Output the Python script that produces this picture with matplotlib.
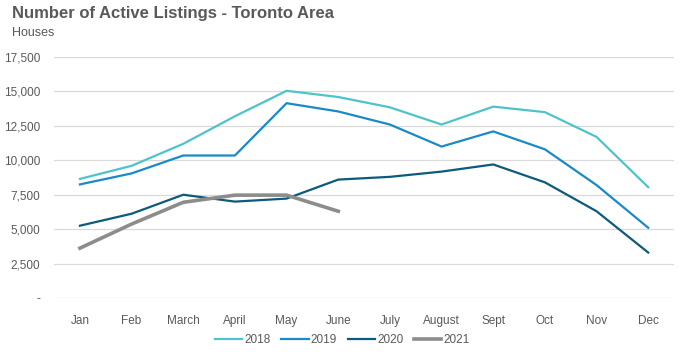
import matplotlib.pyplot as plt
from matplotlib.ticker import FuncFormatter

months = ["Jan", "Feb", "March", "April", "May", "June",
          "July", "August", "Sept", "Oct", "Nov", "Dec"]
listings_2018 = [8650, 9600, 11200, 13200, 15050, 14600,
                 13850, 12600, 13900, 13500, 11700, 8050]
listings_2019 = [8250, 9050, 10350, 10350, 14150, 13550,
                 12600, 11000, 12100, 10800, 8200, 5100]
listings_2020 = [5250, 6120, 7500, 7000, 7220, 8600,
                 8800, 9180, 9700, 8400, 6300, 3300]
listings_2021 = [3620, 5370, 6950, 7470, 7470, 6300]

TEXT = "#595959"
plt.rcParams["font.family"] = ["Liberation Sans", "DejaVu Sans"]


def fmt(v, pos):
    if v == 0:
        return "-"
    return f"{int(v):,}"


def main():
    fig = plt.figure(figsize=(6.85, 3.59), dpi=100)
    ax = fig.add_axes([0.079, 0.170, 0.905, 0.671])

    x = range(len(months))
    ax.plot(x, listings_2018, color="#4FC3CB", lw=1.6, label="2018")
    ax.plot(x, listings_2019, color="#1A8AC6", lw=1.6, label="2019")
    ax.plot(x, listings_2020, color="#0C5A7C", lw=1.6, label="2020")
    ax.plot(range(len(listings_2021)), listings_2021, color="#8C8C8C",
            lw=2.6, label="2021")

    ax.set_xlim(-0.5, 11.5)
    ax.set_ylim(0, 17500)
    ax.set_yticks(range(0, 17501, 2500))
    ax.yaxis.set_major_formatter(FuncFormatter(fmt))
    ax.set_xticks(list(x))
    ax.set_xticklabels(months)
    ax.grid(axis="y", color="#D9D9D9", lw=0.9)
    ax.set_axisbelow(True)
    for s in ax.spines.values():
        s.set_visible(False)
    ax.tick_params(length=0, colors=TEXT, labelsize=8.5, pad=10)
    ax.tick_params(axis="x", pad=12)

    fig.text(0.017, 0.962, "Number of Active Listings - Toronto Area",
             fontsize=12, fontweight="bold", color=TEXT, va="center")
    fig.text(0.017, 0.908, "Houses", fontsize=9, color=TEXT, va="center")

    fig.legend(loc="center", bbox_to_anchor=(0.5, 0.053), ncol=4,
               frameon=False, fontsize=8.5, labelcolor=TEXT,
               handlelength=2.3, handletextpad=0.2, columnspacing=0.9)

    fig.savefig("out.png", dpi=100)


if __name__ == "__main__":
    main()
